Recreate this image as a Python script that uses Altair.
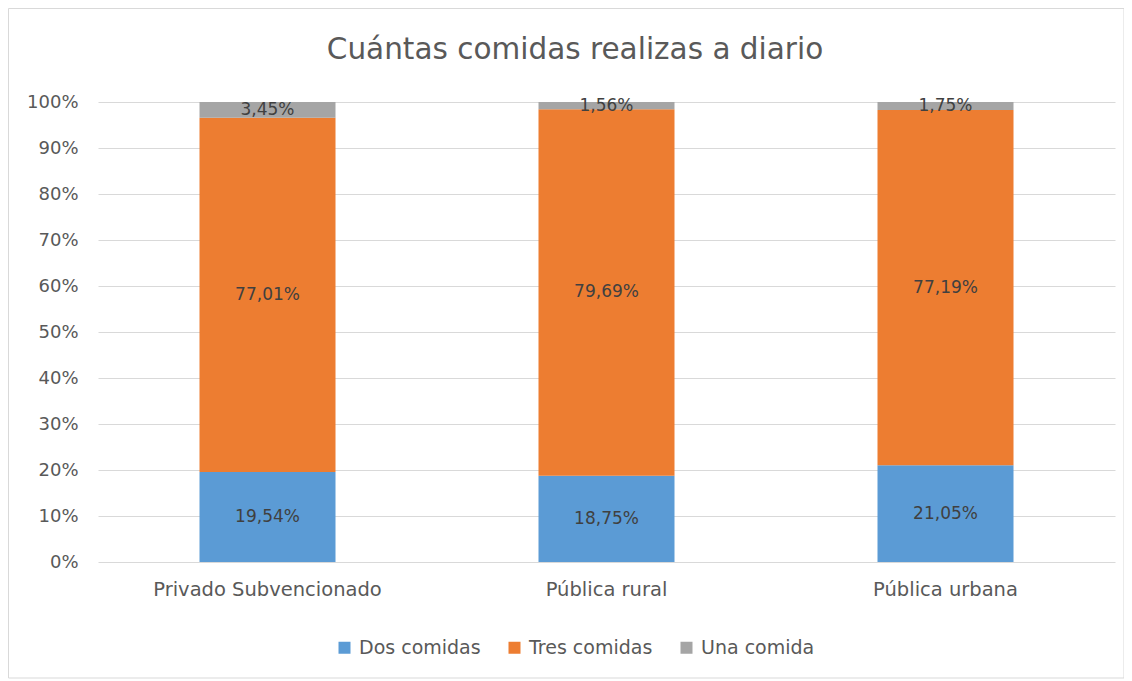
import altair as alt
import pandas as pd

title_text = "Cuántas comidas realizas a diario"
categories = ["Privado Subvencionado", "Pública rural", "Pública urbana"]
series = ["Dos comidas", "Tres comidas", "Una comida"]
dos = [19.54, 18.75, 21.05]
tres = [77.01, 79.69, 77.19]
una = [3.45, 1.56, 1.75]
colors = ["#5B9BD5", "#ED7D31", "#A5A5A5"]

rows = []
for i, c in enumerate(categories):
    for j, (s, vals) in enumerate(zip(series, [dos, tres, una])):
        v = vals[i]
        rows.append({"cat": c, "serie": s, "ord": j, "frac": v / 100.0,
                     "label": f"{v:.2f}".replace(".", ",") + "%"})
df = pd.DataFrame(rows)

FONT = "DejaVu Sans"
TXT = "#595959"

base = alt.Chart(df).transform_stack(
    stack="frac", groupby=["cat"], as_=["v0", "v1"],
    sort=[alt.SortField("ord", order="ascending")]
).transform_calculate(mid="(datum.v0 + datum.v1) / 2")

x_enc = alt.X("cat:N", sort=categories, title=None,
              scale=alt.Scale(paddingInner=0.6, paddingOuter=0.3),
              axis=alt.Axis(labelAngle=0, labelFontSize=19.5, labelColor=TXT,
                            labelFont=FONT, labelPadding=18, ticks=False,
                            domain=False, labelLimit=0))

bars = base.mark_bar(size=136).encode(
    x=x_enc,
    y=alt.Y("v0:Q", title=None,
            scale=alt.Scale(domain=[0, 1], nice=False),
            axis=alt.Axis(format=".0%", values=[i / 10 for i in range(11)],
                          labelFontSize=18, labelColor=TXT, labelFont=FONT,
                          labelPadding=20, ticks=False, domain=False,
                          gridColor="#D9D9D9", gridWidth=1)),
    y2="v1:Q",
    color=alt.Color("serie:N", sort=series,
                    scale=alt.Scale(domain=series, range=colors),
                    legend=alt.Legend(title=None, orient="none", direction="horizontal",
                                      legendX=237, legendY=536,
                                      symbolType="square", symbolSize=144,
                                      symbolStrokeWidth=0,
                                      labelFontSize=19, labelColor=TXT, labelFont=FONT,
                                      columnPadding=24, labelOffset=5)),
)

texts = base.mark_text(fontSize=17, color="#404040", font=FONT).encode(
    x=alt.X("cat:N", sort=categories),
    y=alt.Y("mid:Q"),
    text="label:N",
)

one = pd.DataFrame({"t": [title_text]})

border = alt.Chart(one).mark_rect(
    filled=False, stroke="#D9D9D9", strokeWidth=1
).encode(x=alt.value(-89.5), x2=alt.value(1026), y=alt.value(-93.5), y2=alt.value(576))

title = alt.Chart(one).mark_text(
    fontSize=29.5, font=FONT, color=TXT, align="center", baseline="alphabetic"
).encode(x=alt.value(477), y=alt.value(-43), text="t:N")

chart = alt.layer(border, bars, texts, title).properties(
    width=1017, height=460,
    autosize=alt.AutoSizeParams(type="none"),
    padding={"left": 90, "top": 94, "right": 9, "bottom": 117},
).configure(background="white", view=alt.ViewConfig(stroke=None))

chart.save("out.html", embed_options={"renderer": "svg", "actions": False})
